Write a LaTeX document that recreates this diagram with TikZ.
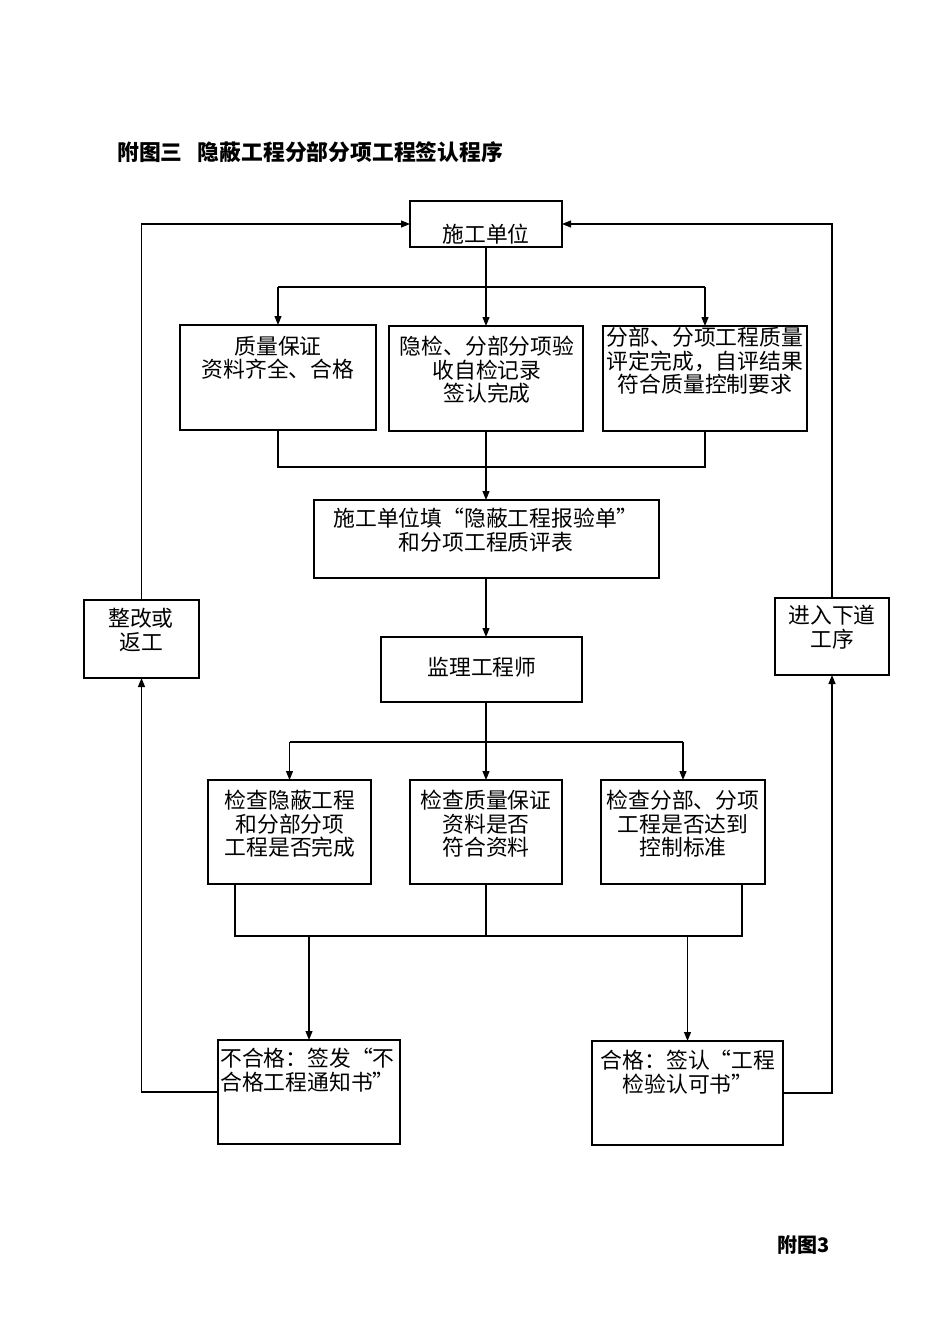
\documentclass[tikz,border=0pt]{standalone}
\usepackage{fontspec}
\setmainfont{Noto Sans CJK SC}
\usetikzlibrary{arrows.meta}
\tikzset{
  box/.style={draw, rectangle, inner sep=0pt, outer sep=0pt, line width=1.1pt},
  txt/.style={inner sep=0pt, align=center, font=\fontsize{21.8}{23.5}\selectfont},
  arr/.style={-{Triangle[length=9pt,width=7pt]}},
  conn/.style={line width=1.1pt}
}
\begin{document}
\begin{tikzpicture}[x=1pt,y=-1pt]
\useasboundingbox (0,0) rectangle (950,1344);
\fill[white] (0,0) rectangle (950,1344);
% title
\node[anchor=west, inner sep=0pt, font=\fontsize{21.8}{23}\selectfont\bfseries] (title) at (117,152) {附图三\hspace{0.7em}隐蔽工程分部分项工程签认程序};
% boxes
\node[box, minimum width=152, minimum height=46] (sg) at (486,224) {};
\node[box, minimum width=196, minimum height=105] (bA) at (278,377.5) {};
\node[box, minimum width=194, minimum height=105] (bB) at (486,378.5) {};
\node[box, minimum width=204, minimum height=105] (bC) at (705,378.5) {};
\node[box, minimum width=345, minimum height=78] (fill) at (486.5,539) {};
\node[box, minimum width=201, minimum height=65] (jl) at (481.5,669.5) {};
\node[box, minimum width=163, minimum height=104] (bD) at (289.5,832) {};
\node[box, minimum width=152, minimum height=104] (bE) at (486,832) {};
\node[box, minimum width=164, minimum height=104] (bF) at (683,832) {};
\node[box, minimum width=182, minimum height=104] (bG) at (309,1092) {};
\node[box, minimum width=191, minimum height=104] (bH) at (687.5,1093) {};
\node[box, minimum width=115, minimum height=78] (zg) at (141.5,639) {};
\node[box, minimum width=114, minimum height=77] (jr) at (832,636.5) {};
% texts
\node[txt] (tsg) at (486,234) {施工单位};
\node[txt] (tA) at (278,358) {质量保证\\资料齐全、合格};
\node[txt] (tB) at (487,370) {隐检、分部分项验\\收自检记录\\签认完成};
\node[txt] (tC) at (705,361) {分部、分项工程质量\\评定完成，自评结果\\符合质量控制要求};
\node[txt] (tfill) at (486,530) {施工单位填“隐蔽工程报验单”\\和分项工程质评表};
\node[txt] (tjl) at (482,667) {监理工程师};
\node[txt] (tD) at (290,824) {检查隐蔽工程\\和分部分项\\工程是否完成};
\node[txt] (tE) at (486,824) {检查质量保证\\资料是否\\符合资料};
\node[txt] (tF) at (683,824) {检查分部、分项\\工程是否达到\\控制标准};
\node[txt, align=left, anchor=west] (tG) at (220,1070) {不合格：签发“不\\合格工程通知书”};
\node[txt] (tH) at (688,1072) {合格：签认“工程\\检验认可书”};
\node[txt] (tzg) at (141,630) {整改或\\返工};
\node[txt] (tjr) at (832,627) {进入下道\\工序};
\node[anchor=west, inner sep=0pt, font=\fontsize{20}{22}\selectfont\bfseries] (fig3) at (777,1245) {附图3};
% junction coordinates
\coordinate (j1) at (486,287);
\coordinate (j2) at (486,467);
\coordinate (j3) at (486,742);
\coordinate (d1) at (235,936);
\coordinate (f1) at (742,936);
% connectors top
\draw[conn, arr] (sg.south) -- (bB.north);
\draw[conn] (bA.north |- j1) -- (bC.north |- j1);
\draw[conn, arr] (bA.north |- j1) -- (bA.north);
\draw[conn, arr] (bC.north |- j1) -- (bC.north);
\draw[conn] (bA.south) -- (bA.south |- j2) -- (bC.south |- j2) -- (bC.south);
\draw[conn, arr] (bB.south) -- (fill.north -| bB.south);
\draw[conn, arr] (fill.south -| bB.south) -- (jl.north -| bB.south);
% second fan
\draw[conn] (jl.south -| j3) -- (j3);
\draw[conn] (bD.north |- j3) -- (bF.north |- j3);
\draw[conn, arr] (bD.north |- j3) -- (bD.north);
\draw[conn, arr] (j3) -- (bE.north);
\draw[conn, arr] (bF.north |- j3) -- (bF.north);
% merge
\draw[conn] (bD.south -| d1) -- (d1) -- (f1) -- (bF.south -| f1);
\draw[conn] (bE.south) -- (bE.south |- d1);
\draw[conn, arr] (bG.north |- d1) -- (bG.north);
\draw[conn, arr] (bH.north |- d1) -- (bH.north);
% returns
\draw[conn, arr] (bG.west) -- (bG.west -| zg.south) -- (zg.south);
\draw[conn, arr] (zg.north) -- (zg.north |- sg.west) -- (sg.west);
\draw[conn, arr] (bH.east) -- (bH.east -| jr.south) -- (jr.south);
\draw[conn, arr] (jr.north) -- (jr.north |- sg.east) -- (sg.east);
\end{tikzpicture}
\end{document}
